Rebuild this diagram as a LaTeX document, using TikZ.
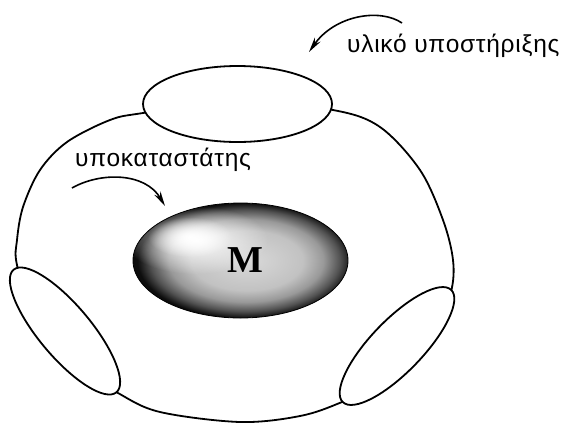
\documentclass[tikz,border=0pt]{standalone}
\usepackage{fontspec}
\setmainfont{Liberation Serif}
\newfontfamily\grk[LetterSpace=3]{Liberation Sans}
\usetikzlibrary{arrows.meta,fadings}
\pgfdeclareradialshading{mbase}{\pgfpoint{2bp}{0bp}}{color(0bp)=(black!15); color(13bp)=(black!24); color(18bp)=(black!40); color(22bp)=(black!68); color(25bp)=(black!95); color(50bp)=(black)}
\tikzfading[name=glow, inner color=transparent!0, outer color=transparent!100]
\tikzset{
  outline/.style={line width=1.8pt, black},
  blob/.style={line width=1.8pt, black, fill=white},
  pointer/.style={line width=1.6pt, -{Stealth[length=15pt, width=7pt, inset=5pt]}},
  lbl/.style={font=\grk\fontsize{24.5}{28}\selectfont, inner sep=0pt, anchor=base west},
}
\begin{document}
\begin{tikzpicture}[x=1pt, y=-1pt]
\useasboundingbox (0,0) rectangle (561,424);
% outer body
\draw[outline] plot[smooth cycle, tension=0.55] coordinates {
 (237,100) (333,110) (380,127) (420,170) (443,220) (453,260) (451,292)
 (435,335) (400,375) (342,402) (300,416) (240,422) (160,412) (118,393)
 (70,362) (35,320) (17,265) (17,240) (23,207) (40,170) (67,142) (110,120) (143,113)};
% supports
\draw[blob] (237.5,104) ellipse [x radius=94.5, y radius=38];
\draw[blob, rotate around={-50:(65,331)}] (65,331) ellipse [x radius=80, y radius=26];
\draw[blob, rotate around={46:(397,346)}] (397,346) ellipse [x radius=78, y radius=26];
% central molecule
\shade[shading=mbase] (240.5,260.5) ellipse [x radius=107.5, y radius=57.5];
\fill[white, path fading=glow] (196,240) ellipse [x radius=72, y radius=34];
\fill[white, path fading=glow] (190,237) ellipse [x radius=42, y radius=20];
\draw[line width=0.8pt, black] (240.5,260.5) ellipse [x radius=107.5, y radius=57.5];
\node[font=\bfseries\fontsize{38}{40}\selectfont, inner sep=0pt] (M) at (245,260) {M};
% labels
\node[lbl] (sup) at (347,52) {υλικό υποστήριξης};
\node[lbl] (sub) at (75,166) {υποκαταστάτης};
\coordinate (a1s) at (402,23);
\coordinate (a1e) at (309,52);
\coordinate (a2s) at (72,188);
\coordinate (a2e) at (165,206);
\draw[pointer] (a1s) .. controls (380,8) and (335,15) .. (a1e);
\draw[pointer] (a2s) .. controls (100,172) and (145,172) .. (a2e);
\end{tikzpicture}
\end{document}
